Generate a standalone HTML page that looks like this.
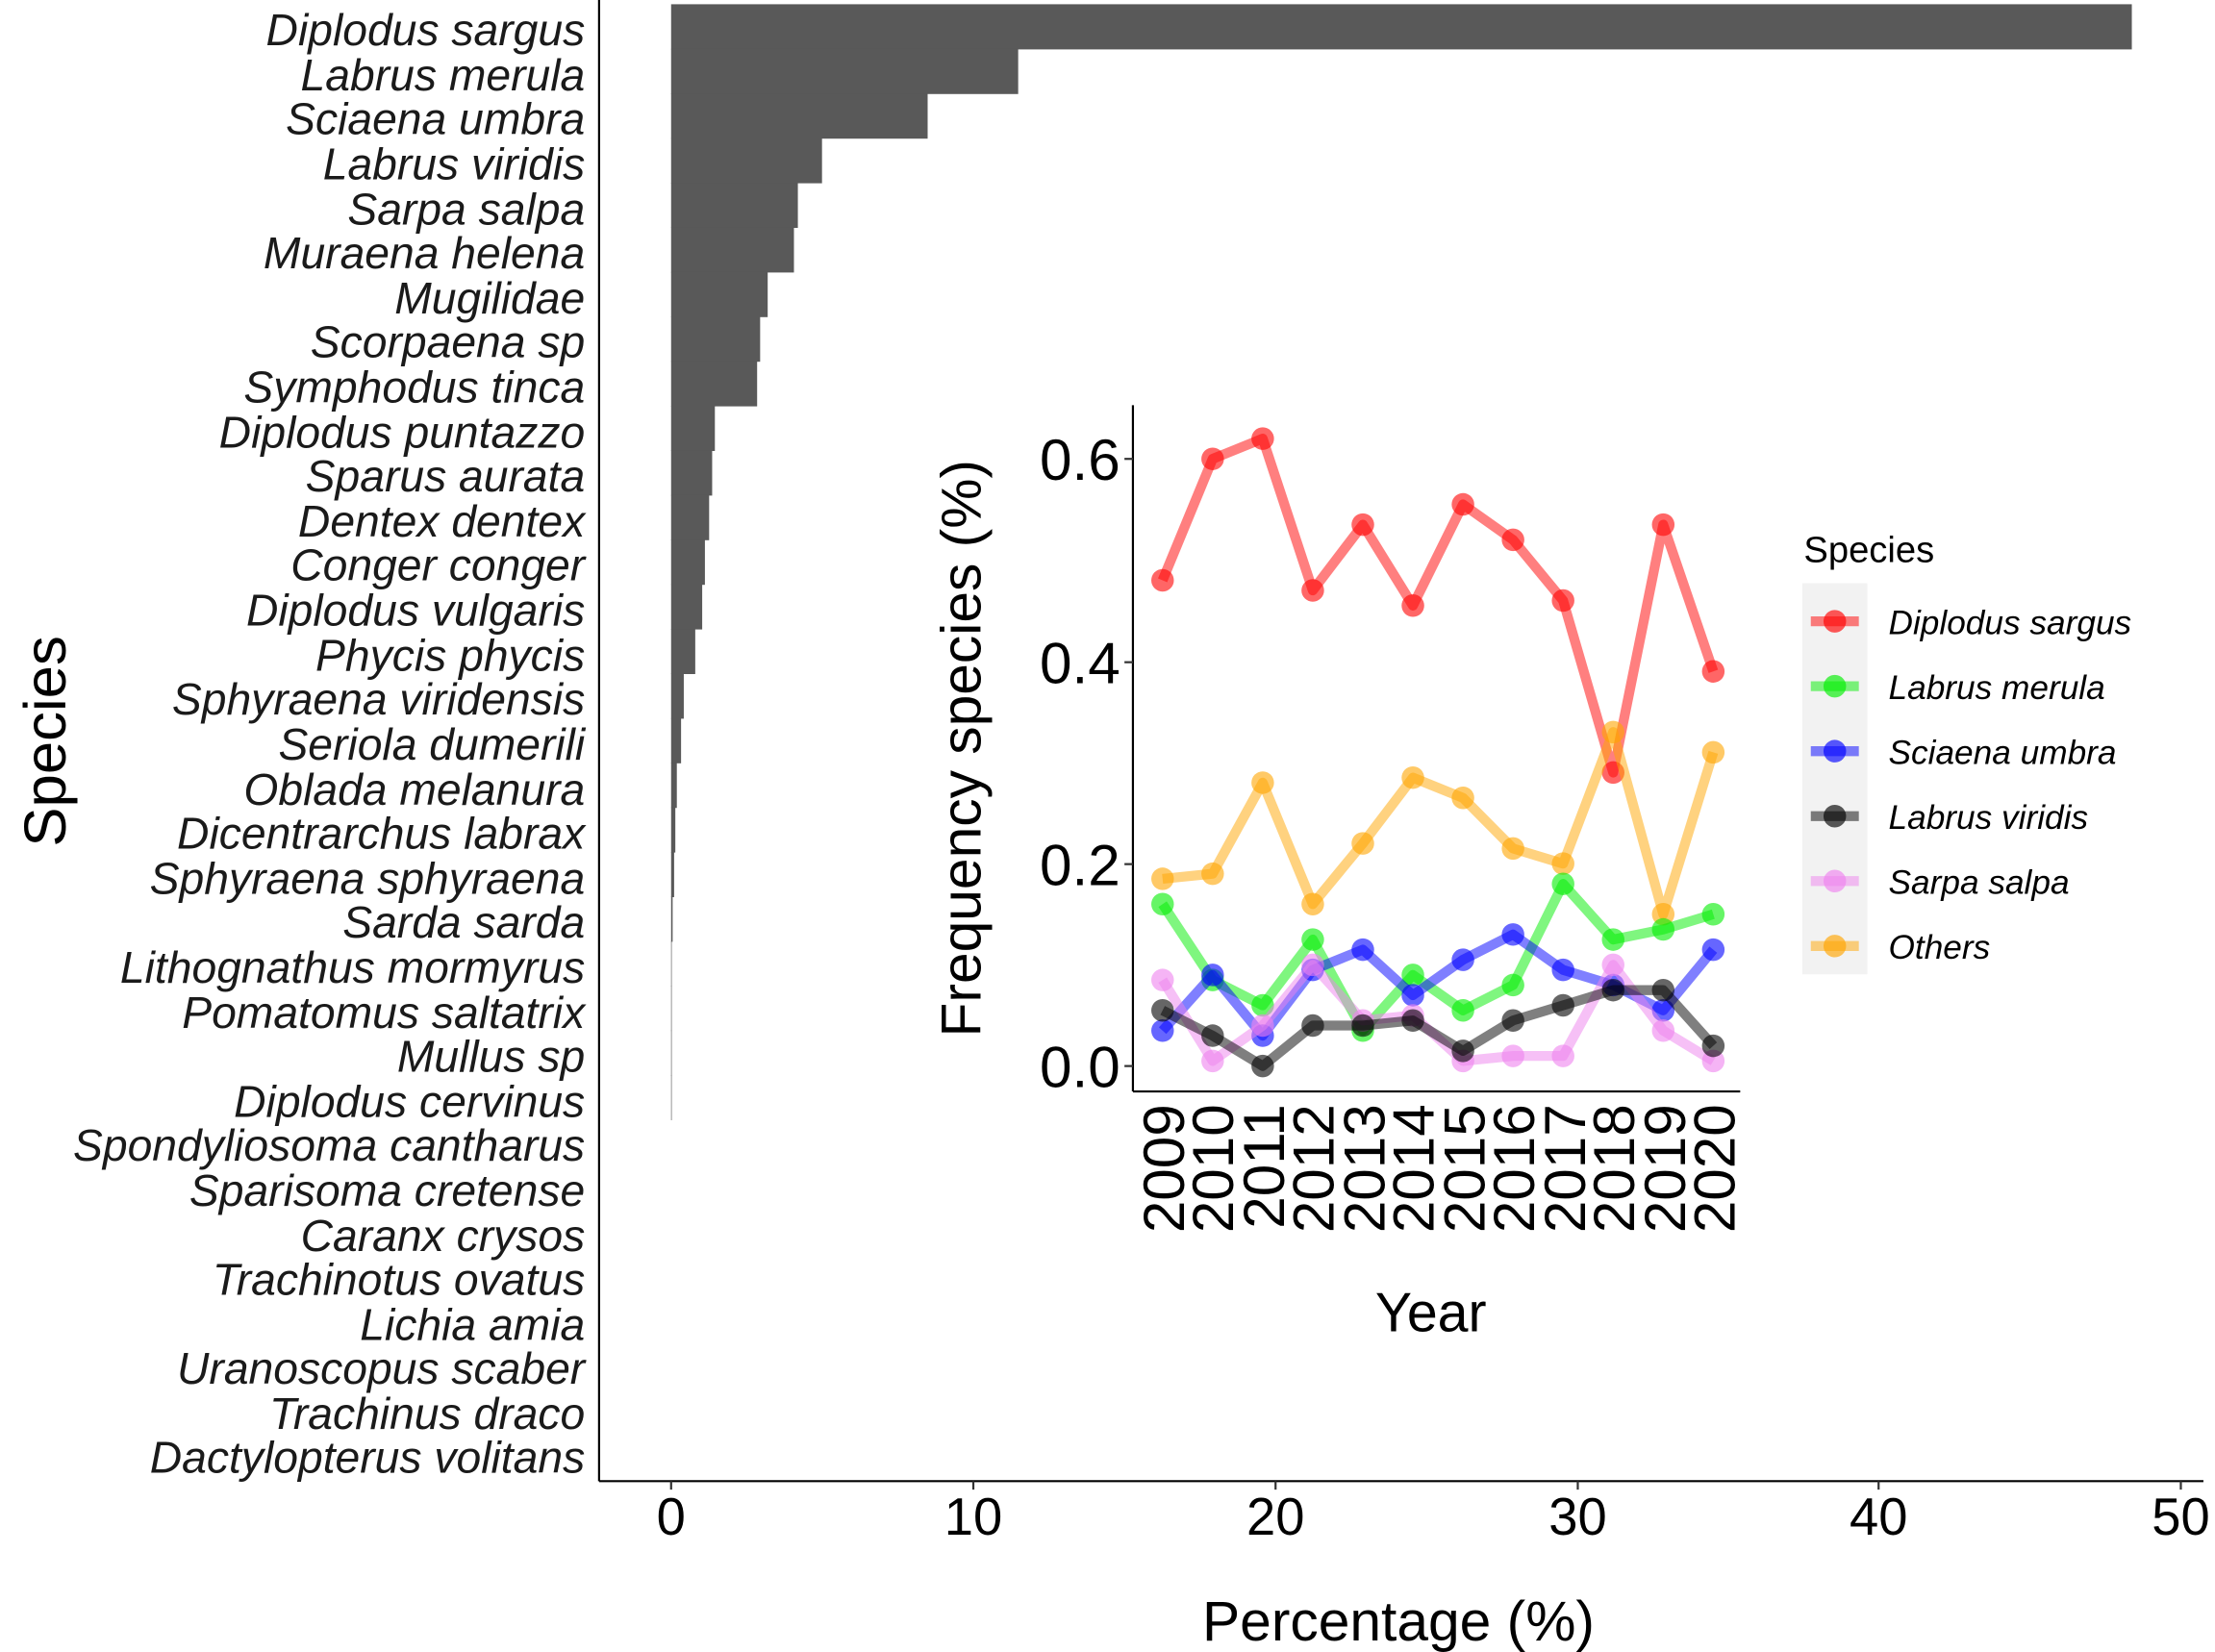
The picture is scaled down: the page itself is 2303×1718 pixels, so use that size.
<!DOCTYPE html>
<html><head><meta charset="utf-8"><style>html,body{margin:0;padding:0;background:#fff}svg{display:block}</style></head>
<body>
<svg id="s" width="2303" height="1718" viewBox="0 0 1568 1170" xmlns="http://www.w3.org/2000/svg" font-family="Liberation Sans, Arial, sans-serif">
<rect width="1568" height="1170" fill="#fff"/>
<g id="bars" fill="#595959"></g>
<line x1="424" y1="0" x2="424" y2="1049" stroke="#000" stroke-width="1.5"/>
<line x1="424" y1="1049" x2="1560" y2="1049" stroke="#000" stroke-width="1.5"/>
<g stroke="#333" stroke-width="1.5">
<line x1="475" y1="1049" x2="475" y2="1055"/><line x1="689" y1="1049" x2="689" y2="1055"/><line x1="903" y1="1049" x2="903" y2="1055"/><line x1="1117" y1="1049" x2="1117" y2="1055"/><line x1="1330" y1="1049" x2="1330" y2="1055"/><line x1="1544" y1="1049" x2="1544" y2="1055"/>
</g>
<g font-size="37" text-anchor="middle" fill="#000">
<text x="475" y="1087">0</text><text x="689" y="1087">10</text><text x="903" y="1087">20</text><text x="1117" y="1087">30</text><text x="1330" y="1087">40</text><text x="1544" y="1087">50</text>
</g>
<text x="990" y="1162" font-size="40" text-anchor="middle">Percentage (%)</text>
<text transform="translate(46,525) rotate(-90)" font-size="42" text-anchor="middle">Species</text>
<g font-size="31.5" font-style="italic" text-anchor="end" fill="#1a1a1a">
<text x="414" y="32">Diplodus sargus</text>
<text x="414" y="64">Labrus merula</text>
<text x="414" y="95">Sciaena umbra</text>
<text x="414" y="127">Labrus viridis</text>
<text x="414" y="159">Sarpa salpa</text>
<text x="414" y="190">Muraena helena</text>
<text x="414" y="222">Mugilidae</text>
<text x="414" y="253">Scorpaena sp</text>
<text x="414" y="285">Symphodus tinca</text>
<text x="414" y="317">Diplodus puntazzo</text>
<text x="414" y="348">Sparus aurata</text>
<text x="414" y="380">Dentex dentex</text>
<text x="414" y="411">Conger conger</text>
<text x="414" y="443">Diplodus vulgaris</text>
<text x="414" y="475">Phycis phycis</text>
<text x="414" y="506">Sphyraena viridensis</text>
<text x="414" y="538">Seriola dumerili</text>
<text x="414" y="570">Oblada melanura</text>
<text x="414" y="601">Dicentrarchus labrax</text>
<text x="414" y="633">Sphyraena sphyraena</text>
<text x="414" y="664">Sarda sarda</text>
<text x="414" y="696">Lithognathus mormyrus</text>
<text x="414" y="728">Pomatomus saltatrix</text>
<text x="414" y="759">Mullus sp</text>
<text x="414" y="791">Diplodus cervinus</text>
<text x="414" y="822">Spondyliosoma cantharus</text>
<text x="414" y="854">Sparisoma cretense</text>
<text x="414" y="886">Caranx crysos</text>
<text x="414" y="917">Trachinotus ovatus</text>
<text x="414" y="949">Lichia amia</text>
<text x="414" y="980">Uranoscopus scaber</text>
<text x="414" y="1012">Trachinus draco</text>
<text x="414" y="1043">Dactylopterus volitans</text>
</g>
<g id="inset"></g>
<line x1="802" y1="287" x2="802" y2="773" stroke="#000" stroke-width="1.5"/>
<line x1="802" y1="773" x2="1232" y2="773" stroke="#000" stroke-width="1.5"/>
<g stroke="#333" stroke-width="1.5">
<line x1="796" y1="325" x2="802" y2="325"/><line x1="796" y1="469" x2="802" y2="469"/><line x1="796" y1="612" x2="802" y2="612"/><line x1="796" y1="755" x2="802" y2="755"/>
</g>
<g font-size="41" text-anchor="end">
<text x="793" y="340">0.6</text><text x="793" y="484">0.4</text><text x="793" y="627">0.2</text><text x="793" y="770">0.0</text>
</g>
<g font-size="41" text-anchor="end">
<text transform="translate(838,782) rotate(-90)">2009</text>
<text transform="translate(873,782) rotate(-90)">2010</text>
<text transform="translate(909,782) rotate(-90)">2011</text>
<text transform="translate(944,782) rotate(-90)">2012</text>
<text transform="translate(980,782) rotate(-90)">2013</text>
<text transform="translate(1015,782) rotate(-90)">2014</text>
<text transform="translate(1051,782) rotate(-90)">2015</text>
<text transform="translate(1086,782) rotate(-90)">2016</text>
<text transform="translate(1122,782) rotate(-90)">2017</text>
<text transform="translate(1157,782) rotate(-90)">2018</text>
<text transform="translate(1193,782) rotate(-90)">2019</text>
<text transform="translate(1228,782) rotate(-90)">2020</text>
</g>
<text x="1013" y="943" font-size="39" text-anchor="middle">Year</text>
<text transform="translate(694,530) rotate(-90)" font-size="40" text-anchor="middle">Frequency species (%)</text>
<text x="1277" y="398" font-size="26">Species</text>
<rect x="1276" y="413" width="46" height="277" fill="#f2f2f2"/>
<g id="leg"></g>
<g font-size="24" font-style="italic">
<text x="1337" y="449">Diplodus sargus</text>
<text x="1337" y="495">Labrus merula</text>
<text x="1337" y="541">Sciaena umbra</text>
<text x="1337" y="587">Labrus viridis</text>
<text x="1337" y="633">Sarpa salpa</text>
<text x="1337" y="679">Others</text>
</g>
</svg>
<script>
var NS="http://www.w3.org/2000/svg";
function el(p,t,a){var e=document.createElementNS(NS,t);for(var k in a)e.setAttribute(k,a[k]);p.appendChild(e);return e;}
var vals=[48.4,11.5,8.5,5.0,4.2,4.07,3.2,2.95,2.85,1.45,1.36,1.26,1.12,1.03,0.8,0.42,0.33,0.19,0.14,0.1,0.05,0.02,0.02,0.02,0.02];
var b=document.getElementById("bars");
vals.forEach(function(v,i){el(b,"rect",{x:475,y:3+31.6*i,width:v*21.37,height:32});});
var series=[
["#ff0000",[.48,.60,.62,.47,.535,.455,.555,.52,.46,.29,.535,.39]],
["#ffa500",[.185,.19,.28,.16,.22,.285,.265,.215,.20,.33,.15,.31]],
["#00ee00",[.16,.085,.06,.125,.035,.09,.055,.08,.18,.125,.135,.15]],
["#0000ff",[.035,.09,.03,.095,.115,.07,.105,.13,.095,.08,.055,.115]],
["#ee82ee",[.085,.005,.04,.1,.045,.05,.005,.01,.01,.10,.035,.005]],
["#000000",[.055,.03,.0,.04,.04,.045,.015,.045,.06,.075,.075,.02]]
];
var g=document.getElementById("inset");
series.forEach(function(s){
 var pts=s[1].map(function(v,i){return (823+35.45*i)+","+(755-716.7*v);}).join(" ");
 el(g,"polyline",{points:pts,fill:"none",stroke:s[0],"stroke-width":7,"stroke-opacity":0.5,"stroke-linejoin":"round"});
 s[1].forEach(function(v,i){el(g,"circle",{cx:823+35.45*i,cy:755-716.7*v,r:8,fill:s[0],"fill-opacity":0.6});});
});
var lc=["#ff0000","#00ee00","#0000ff","#000000","#ee82ee","#ffa500"];
var lg=document.getElementById("leg");
lc.forEach(function(c,i){var y=440+46*i;
 el(lg,"line",{x1:1282,y1:y,x2:1316,y2:y,stroke:c,"stroke-width":7,"stroke-opacity":0.5});
 el(lg,"circle",{cx:1299,cy:y,r:8,fill:c,"fill-opacity":0.65});});
</script>
</body></html>
